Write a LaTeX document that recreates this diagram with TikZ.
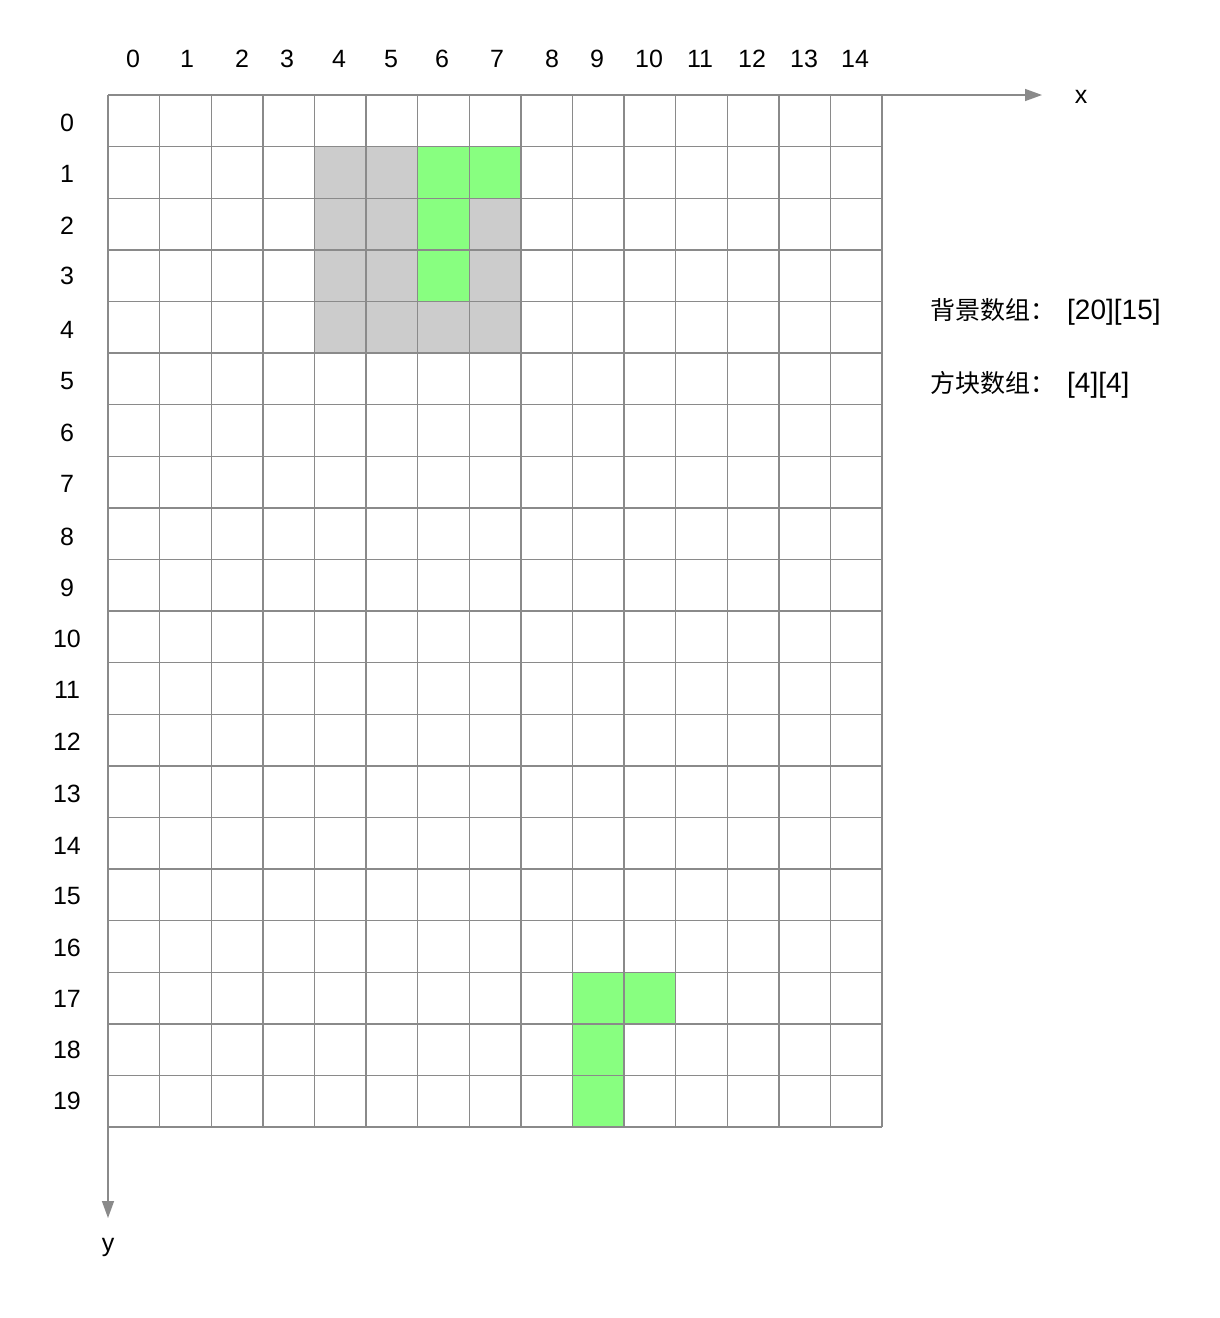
\documentclass[tikz,border=0pt]{standalone}
\usepackage{fontspec}
\setmainfont{Liberation Sans}
\newfontfamily\cjk{Noto Sans CJK SC}
\usetikzlibrary{arrows.meta}
\definecolor{gridgray}{HTML}{8A8A8A}
\definecolor{blockgray}{HTML}{CCCCCC}
\definecolor{blockgreen}{HTML}{88FF80}
\newcommand{\AxTip}{Triangle[length=17,width=12]}
\newcommand{\CellFill}[3]{\fill[#1]({108+#2*51.6},{95+#3*51.6})rectangle++(51.6,51.6);}
\newcommand{\NoteSize}{\fontsize{28}{30}\selectfont}
\tikzset{gridline/.style={gridgray,line width=1.4}}
\tikzset{axisline/.style={gridgray,line width=1.4,-{\AxTip}}}
\tikzset{lbl/.style={inner sep=0,font=\fontsize{25}{30}\selectfont}}
\tikzset{note/.style={inner sep=0,anchor=west,font=\fontsize{25}{30}\selectfont}}

\begin{document}
\begin{tikzpicture}[x=1pt,y=-1pt]
\useasboundingbox(0,0)rectangle(1220,1318);
\fill[white](0,0)rectangle(1220,1318);
% block cells
\foreach \i in {4,...,7}\foreach \j in {1,...,4}{\CellFill{blockgray}{\i}{\j}}
\CellFill{blockgreen}{6}{1}\CellFill{blockgreen}{7}{1}\CellFill{blockgreen}{6}{2}\CellFill{blockgreen}{6}{3}
\CellFill{blockgreen}{9}{17}\CellFill{blockgreen}{10}{17}\CellFill{blockgreen}{9}{18}\CellFill{blockgreen}{9}{19}
% grid
\foreach \i in {1,...,15}\draw[gridline]({108+\i*51.6},95)--({108+\i*51.6},1127);
\foreach \j in {1,...,20}\draw[gridline](108,{95+\j*51.6})--(882,{95+\j*51.6});
% axes
\coordinate(O)at(108,95);\coordinate(xend)at(1042,95);\coordinate(yend)at(108,1218);
\draw[axisline](O)--(xend);\draw[axisline](O)--(yend);
\node[lbl](xlab)at(1081,97){x};\node[lbl](ylab)at(108,1247){y};
% labels
\foreach \i/\px in {0/133,1/187,2/242,3/287,4/339,5/391,6/442,7/497,8/552,9/597,10/649,11/700,12/752,13/804,14/855}
  \node[lbl](c\i)at(\px,59){\i};
\foreach \j/\py in {0/123,1/174,2/226,3/276,4/330,5/381,6/433,7/484,8/537,9/588,10/639,11/690,12/742,13/794,14/846,15/896,16/948,17/999,18/1050,19/1101}
  \node[lbl](r\j)at(67,\py){\j};
\node[note](bgarr)at(930,312){{\cjk 背景数组：}\kern12pt{\NoteSize[20][15]}};
\node[note](blkarr)at(930,385){{\cjk 方块数组：}\kern12pt{\NoteSize[4][4]}};
\end{tikzpicture}
\end{document}
